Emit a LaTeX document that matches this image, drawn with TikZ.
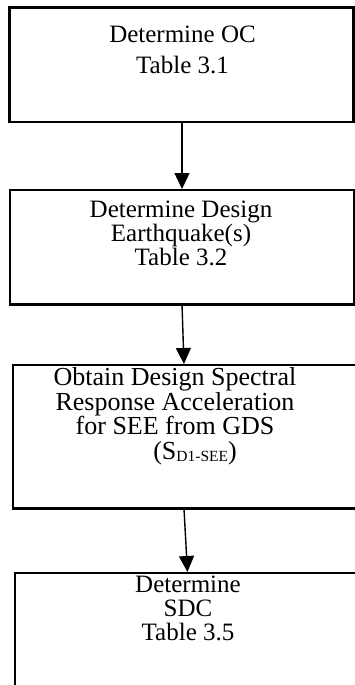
\documentclass[tikz,border=0pt]{standalone}
\usepackage{fontspec}
\setmainfont{Liberation Serif}
\usetikzlibrary{arrows.meta}
\begin{document}
\begin{tikzpicture}[x=1pt,y=-1pt,
  boxframe/.style={draw=black, line width=2.6pt, inner sep=0pt, outer sep=0pt},
  boxtext/.style={align=center, inner sep=0pt, anchor=north, font=\fontsize{25}{24}\selectfont},
  arr/.style={-{Triangle[width=15pt,length=16pt]}, line width=1.4pt, shorten >=1pt}]
\useasboundingbox (0,0) rectangle (355,685);
\fill[white] (0,0) rectangle (355,685);
\clip (0,0) rectangle (355,685);
% boxes
\node[boxframe, minimum width=343.8pt, minimum height=114.5pt] (b1) at (181.4,64.75) {};
\node[boxframe, minimum width=344pt, minimum height=114.3pt] (b2) at (182,247.15) {};
\node[boxframe, minimum width=347pt, minimum height=143.7pt] (b3) at (186.5,436.85) {};
\node[boxframe, minimum width=347pt, minimum height=127pt] (b4) at (188.5,636.5) {};
% texts
\node[boxtext, font=\fontsize{25}{31}\selectfont] (t1) at (182.5,25.6) {Determine OC\\Table 3.1};
\node[boxtext] (t2) at (181,200.5) {Determine Design\\Earthquake(s)\\Table 3.2};
\node[boxtext, font=\fontsize{26}{23.5}\selectfont] (t3) at (175,367.2) {Obtain Design Spectral\\Response Acceleration\\for SEE from GDS\\[1pt]\hspace*{40pt}(S\raisebox{-2.5pt}{\fontsize{15.5}{15.5}\selectfont D1-SEE})};
\node[boxtext] (t4) at (188,575.5) {Determine\\SDC\\Table 3.5};
% connectors
\draw[arr] ([xshift=0.6pt]b1.south) -- (b2.north);
\draw[arr] (b2.south) -- ([xshift=-2.5pt]b3.north);
\draw[arr] ([xshift=-2.5pt]b3.south) -- ([xshift=-1pt]b4.north);
\end{tikzpicture}
\end{document}
